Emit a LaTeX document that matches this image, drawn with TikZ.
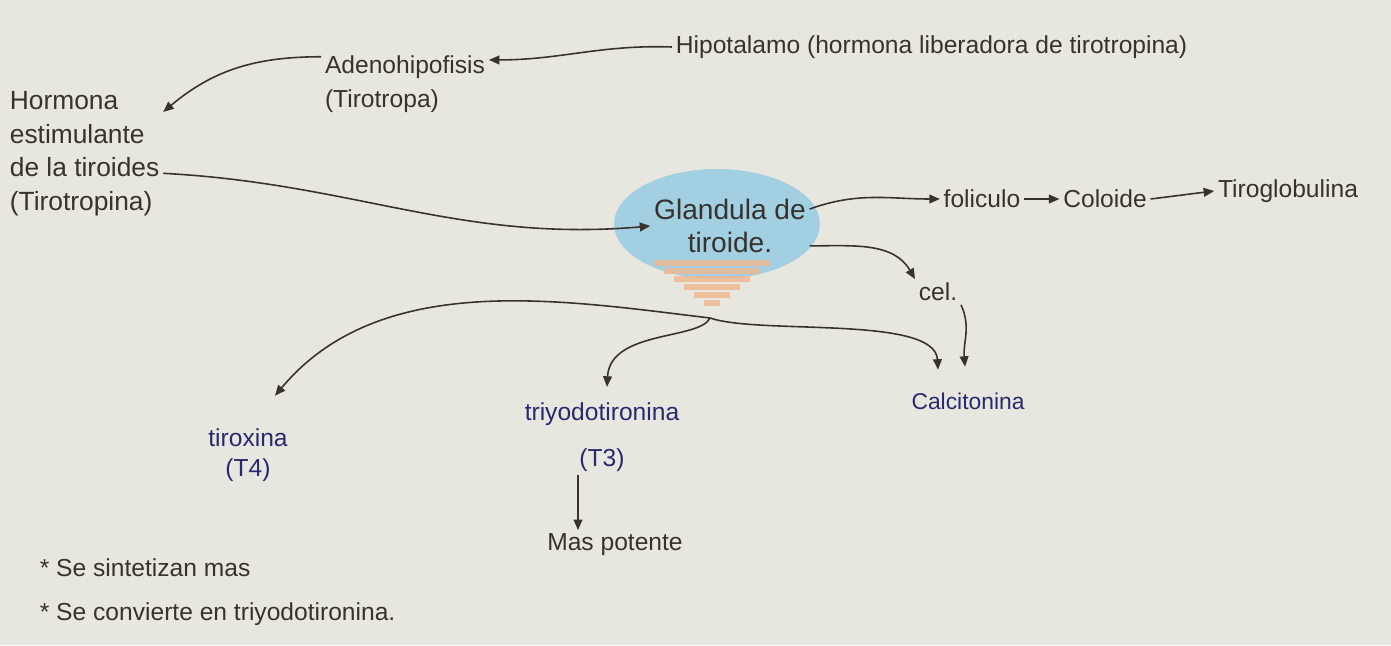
\documentclass[tikz,border=0pt]{standalone}
\usepackage{fontspec}
\setmainfont{Liberation Sans}
\usetikzlibrary{arrows.meta}

\definecolor{paper}{RGB}{231,231,224}
\definecolor{ink}{RGB}{55,50,45}
\definecolor{navy}{RGB}{40,42,110}
\definecolor{blob}{RGB}{140,200,226}
\definecolor{peach}{RGB}{240,182,140}

\tikzset{
  txt/.style={text=ink, font=\fontsize{14}{19}\selectfont, inner sep=2pt},
  bluetxt/.style={text=navy, font=\fontsize{13}{18}\selectfont, inner sep=2pt},
  flecha/.style={draw=ink, line width=0.9pt, -{Triangle[length=6pt,width=5pt]}}
}

\begin{document}
\begin{tikzpicture}[x=0.02cm, y=-0.02cm]
  % Paper
  \fill[paper] (0,0) rectangle (1391,645);
  \useasboundingbox (0,0) rectangle (1391,645);

  % Blue patch behind the gland, with the orange strokes under it
  \fill[blob, opacity=0.75] (717,224) ellipse [x radius=2.06cm, y radius=1.1cm];
  \foreach \y/\w in {263/58,271/48,279/38,287/28,295/18,303/8} {
      \draw[peach, line width=3pt, opacity=0.8] (712-\w,\y) -- (712+\w,\y);
  }

  % Texts
  \node[txt, anchor=west] (hipo) at (672,47) {Hipotalamo (hormona liberadora de tirotropina)};
  \node[txt, align=left] (adeno) at (405,84) {Adenohipofisis\\(Tirotropa)};
  \node[txt, align=left, anchor=north west, font=\fontsize{15}{19}\selectfont] (tsh) at (6,88)
      {Hormona\\estimulante\\de la tiroides\\(Tirotropina)};
  \node[txt, align=center, font=\fontsize{16}{19}\selectfont] (glandula) at (730,226) {Glandula de\\tiroide.};
  \node[txt] (foli) at (982,199) {foliculo};
  \node[txt] (coloide) at (1105,199) {Coloide};
  \node[txt] (tiroglo) at (1288,191) {Tiroglobulina};
  \node[txt] (cel) at (938,292) {cel.};
  \node[bluetxt] (calci) at (968,401) {Calcitonina};
  \node[bluetxt, align=center, font=\fontsize{14}{17}\selectfont] (tiroxina) at (248,455) {tiroxina\\(T4)};
  \node[bluetxt, align=center, font=\fontsize{14}{26}\selectfont] (triyodo) at (602,437) {triyodotironina\\(T3)};
  \node[txt] (potente) at (615,545) {Mas potente};
  \node[txt, align=left, anchor=north west, font=\fontsize{14}{25}\selectfont] (notas) at (36,555)
      {* Se sintetizan mas\\* Se convierte en triyodotironina.};

  % Branch point under the gland
  \coordinate (branch) at (710,318);

  % Arrows
  \draw[flecha] (hipo.west) to[out=178,in=0] (adeno.16);
  \draw[flecha] (adeno.162) to[out=180,in=40] (tsh.28);
  \draw[flecha] (tsh.-14) to[out=-3,in=185] (glandula.west);
  \draw[flecha] (glandula.12) to[out=20,in=180] (foli.west);
  \draw[flecha] (foli.east) -- (coloide.west);
  \draw[flecha] (coloide.east) -- (tiroglo.west);
  \draw[flecha] (glandula.-14) to[out=0,in=120] (cel.north west);
  \draw[flecha] (cel.south east) to[out=-65,in=95] ([xshift=-0.06cm,yshift=0.44cm]calci.north);

  % From the branch to the three hormones
  \draw[flecha] (branch) .. controls (560,300) and (380,270) .. ([xshift=0.54cm,yshift=0.58cm]tiroxina.north);
  \draw[flecha] (branch) .. controls (700,340) and (610,330) .. ([xshift=0.1cm,yshift=0.24cm]triyodo.north);
  \draw[flecha] (branch) .. controls (760,335) and (935,315) .. ([xshift=-0.6cm,yshift=0.38cm]calci.north);
  \draw[flecha] ([xshift=-0.48cm]triyodo.south) -- ([xshift=-0.74cm]potente.north);
\end{tikzpicture}
\end{document}
